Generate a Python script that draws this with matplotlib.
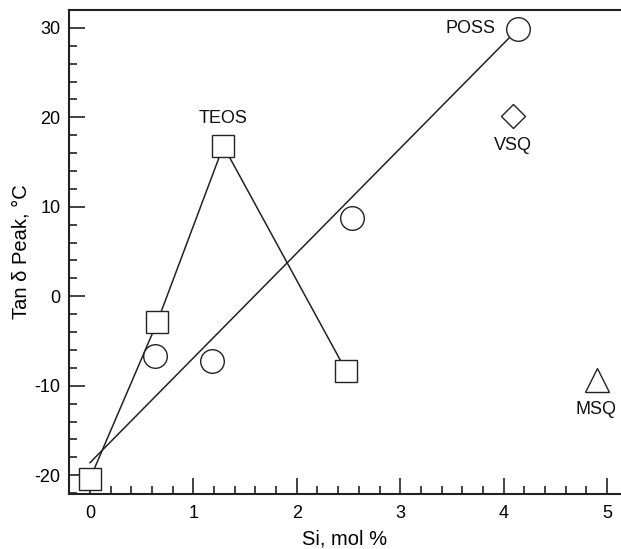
import matplotlib
matplotlib.use("Agg")
from matplotlib import pyplot as plt
from matplotlib.ticker import MultipleLocator

plt.rcParams['font.family'] = ['Liberation Sans', 'DejaVu Sans']
plt.rcParams['axes.unicode_minus'] = False

# TEOS series (squares, joined point to point)
teos_x = [0.0, 0.65, 1.29, 2.48]
teos_y = [-20.4, -2.9, 16.8, -8.4]

# POSS-type series (circles) and its straight fit line
circ_x = [0.63, 1.18, 2.53, 4.14]
circ_y = [-6.7, -7.2, 8.8, 29.9]
fit_x = [0.0, 4.14]
fit_y = [-18.6, 29.9]

# single points
vsq_x, vsq_y = [4.09], [20.1]
msq_x, msq_y = [4.90], [-9.4]

labels = ["POSS", "TEOS", "VSQ", "MSQ"]
label_x = [3.92, 1.29, 4.09, 4.89]
label_y = [29.9, 19.9, 16.8, -12.7]
label_ha = ["right", "center", "center", "center"]

fig = plt.figure(figsize=(6.21, 5.49), dpi=100)
ax = fig.add_axes([69 / 621, 55 / 549, 552 / 621, 484 / 549])

mk = dict(markerfacecolor='white', markeredgecolor='#222222', markeredgewidth=1.0, linestyle='none', zorder=3)
ax.plot(teos_x, teos_y, color='#222222', lw=1.1, zorder=2)
ax.plot(fit_x, fit_y, color='#222222', lw=1.1, zorder=2)
ax.plot(teos_x, teos_y, marker='s', markersize=16, **mk)
ax.plot(circ_x, circ_y, marker='o', markersize=17, **mk)
ax.plot(vsq_x, vsq_y, marker='D', markersize=12.5, **mk)
ax.plot(msq_x, msq_y, marker='^', markersize=17, **mk)

for t, x, y, ha in zip(labels, label_x, label_y, label_ha):
    ax.text(x, y, t, ha=ha, va='center', fontsize=13, color='#111111')

ax.set_xlim(-0.203, 5.135)
ax.set_ylim(-22.1, 32.0)
ax.xaxis.set_major_locator(MultipleLocator(1))
ax.xaxis.set_minor_locator(MultipleLocator(0.2))
ax.yaxis.set_major_locator(MultipleLocator(10))
ax.yaxis.set_minor_locator(MultipleLocator(2))
ax.tick_params(which='both', direction='in', top=False, right=False, color='#222222', width=1.2)
ax.tick_params(which='major', length=11.5, labelsize=13, pad=6)
ax.tick_params(which='minor', length=6)
ax.tick_params(axis='x', which='major', pad=8)

ax.spines['right'].set_visible(False)
for s in ['left', 'bottom', 'top']:
    ax.spines[s].set_linewidth(1.5)
    ax.spines[s].set_color('#222222')

ax.set_xlabel('Si, mol %', fontsize=14.5, labelpad=5)
ax.set_ylabel('Tan δ Peak, °C', fontsize=14.5, labelpad=3)

fig.savefig('out.png', dpi=100)
